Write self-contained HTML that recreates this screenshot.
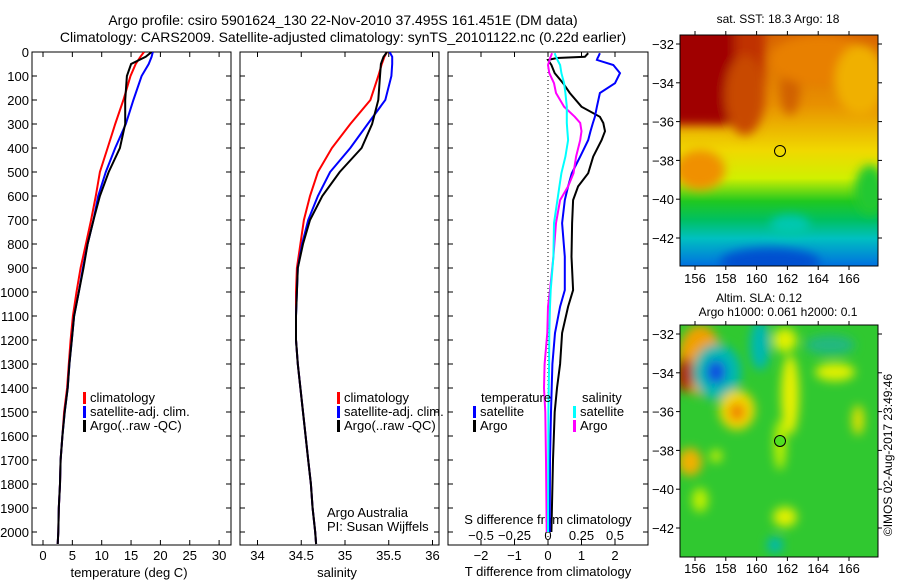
<!DOCTYPE html>
<html><head><meta charset="utf-8"><style>
body{margin:0;background:#fff;}
svg{display:block;font-family:"Liberation Sans",sans-serif;}
</style></head><body>
<svg id="fig" width="900" height="580" viewBox="0 0 900 580" xmlns="http://www.w3.org/2000/svg">
<defs>
<filter id="bl" x="-20%" y="-20%" width="140%" height="140%"><feGaussianBlur stdDeviation="5"/></filter>
<filter id="bl2" x="-30%" y="-30%" width="160%" height="160%"><feGaussianBlur stdDeviation="5"/></filter>
<clipPath id="c1"><rect x="680" y="35" width="198" height="231"/></clipPath>
<clipPath id="c2"><rect x="680" y="325" width="198" height="232"/></clipPath>
<linearGradient id="sstg" x1="0" y1="0" x2="0" y2="1">
<stop offset="0" stop-color="#d86400"/><stop offset="0.3" stop-color="#e89000"/>
<stop offset="0.5" stop-color="#f0d800"/><stop offset="0.62" stop-color="#d0f000"/>
<stop offset="0.72" stop-color="#20c820"/><stop offset="0.8" stop-color="#00c060"/>
<stop offset="0.88" stop-color="#00c0c0"/><stop offset="1" stop-color="#0070e0"/>
</linearGradient>
</defs>
<g id="titles" font-size="14" text-anchor="middle">
<text x="343" y="25">Argo profile: csiro 5901624_130 22-Nov-2010 37.495S 161.451E (DM data)</text>
<text x="343" y="42">Climatology: CARS2009. Satellite-adjusted climatology: synTS_20101122.nc (0.22d earlier)</text>
</g>
<g id="panels"></g>
<g id="map1">
<g clip-path="url(#c1)">
<rect x="680" y="35" width="198" height="231" fill="url(#sstg)"/>
<g filter="url(#bl)">
<rect x="670" y="25" width="70" height="100" fill="#a00000"/>
<rect x="735" y="25" width="30" height="60" fill="#c03000"/>
<ellipse cx="745" cy="95" rx="20" ry="40" fill="#c84800"/>
<ellipse cx="715" cy="110" rx="8" ry="16" fill="#a00000"/>
<ellipse cx="790" cy="90" rx="10" ry="25" fill="#d06000"/>
<ellipse cx="820" cy="60" rx="50" ry="25" fill="#e88000"/>
<ellipse cx="860" cy="80" rx="25" ry="35" fill="#f0b000"/>
<ellipse cx="700" cy="170" rx="25" ry="20" fill="#f09000"/>
<ellipse cx="870" cy="190" rx="15" ry="25" fill="#20c830"/>
<ellipse cx="790" cy="225" rx="20" ry="10" fill="#00c8b0"/>
<ellipse cx="770" cy="262" rx="50" ry="14" fill="#0050d0"/>
</g></g>
<rect x="680" y="35" width="198" height="231" fill="none" stroke="#000"/>
<circle cx="780" cy="151" r="5.5" fill="none" stroke="#000"/>
<text x="778" y="23" font-size="12" text-anchor="middle">sat. SST: 18.3 Argo: 18</text>
</g>
<g id="map2">
<g clip-path="url(#c2)">
<rect x="680" y="325" width="198" height="232" fill="#30c830"/>
<g filter="url(#bl2)">
<ellipse cx="700" cy="360" rx="22" ry="35" fill="#f0a000"/>
<ellipse cx="685" cy="375" rx="8" ry="18" fill="#b02000"/>
<ellipse cx="717" cy="372" rx="24" ry="28" fill="#00b8b0"/>
<ellipse cx="716" cy="372" rx="10" ry="12" fill="#1050e0"/>
<ellipse cx="737" cy="410" rx="18" ry="20" fill="#f0d800"/>
<ellipse cx="737" cy="412" rx="8" ry="9" fill="#f08000"/>
<ellipse cx="760" cy="345" rx="10" ry="25" fill="#00b8b0"/>
<ellipse cx="790" cy="395" rx="9" ry="40" fill="#e8f000"/>
<ellipse cx="780" cy="445" rx="6" ry="25" fill="#c0f000"/>
<ellipse cx="785" cy="340" rx="12" ry="12" fill="#e0f000"/>
<ellipse cx="835" cy="372" rx="20" ry="9" fill="#e0f000"/>
<ellipse cx="858" cy="420" rx="6" ry="15" fill="#e0e000"/>
<ellipse cx="690" cy="462" rx="12" ry="14" fill="#f0b000"/>
<ellipse cx="716" cy="456" rx="6" ry="6" fill="#d0f000"/>
<ellipse cx="700" cy="500" rx="8" ry="12" fill="#c0f000"/>
<ellipse cx="785" cy="517" rx="12" ry="10" fill="#e0f000"/>
<ellipse cx="775" cy="545" rx="8" ry="8" fill="#00b8b0"/>
<ellipse cx="830" cy="345" rx="25" ry="10" fill="#20b880"/>
</g></g>
<rect x="680" y="325" width="198" height="232" fill="none" stroke="#000"/>
<circle cx="780" cy="441" r="5.5" fill="#50e020" stroke="#000"/>
<text x="759" y="302" font-size="12" text-anchor="middle">Altim. SLA: 0.12</text>
<text x="778" y="316" font-size="12" text-anchor="middle">Argo h1000: 0.061 h2000: 0.1</text>
</g>
<text transform="translate(892,455) rotate(-90)" font-size="12" text-anchor="middle">©IMOS 02-Aug-2017 23:49:46</text>
</svg>
<script>
// depth levels (dbar) and series values
const depthT = [0,20,50,100,200,300,400,500,600,700,800,900,1000,1100,1200,1300,1400,1500,1600,1700,1800,1900,2000,2050];
const tempClim = [17.2,16.6,15.8,14.9,13.7,12.3,11.0,9.7,9.0,8.2,7.3,6.4,5.7,5.1,4.7,4.4,4.1,3.6,3.3,3.0,2.9,2.7,2.6,2.5];
const tempSat  = [18.7,18.5,18.0,16.8,15.4,14.1,12.3,10.7,9.4,8.6,7.6,6.8,6.1,5.3,4.9,4.5,4.2,3.7,3.3,3.0,2.9,2.7,2.6,2.5];
const tempArgo = [18.5,17.5,15.0,14.3,14.0,14.0,13.1,11.2,9.7,8.6,7.6,6.9,6.1,5.3,4.9,4.5,4.2,3.7,3.3,3.0,2.9,2.7,2.6,2.5];
const salClim = [35.48,35.45,35.42,35.38,35.29,35.06,34.85,34.69,34.60,34.53,34.49,34.45,34.44,34.44,34.44,34.46,34.49,34.52,34.55,34.58,34.61,34.63,34.66,34.67];
const salSat  = [35.51,35.54,35.54,35.53,35.46,35.26,35.06,34.83,34.69,34.58,34.51,34.46,34.45,34.44,34.44,34.46,34.49,34.52,34.55,34.58,34.61,34.63,34.66,34.67];
const salArgo = [35.48,35.44,35.41,35.40,35.38,35.31,35.19,34.94,34.74,34.60,34.52,34.46,34.45,34.44,34.44,34.46,34.49,34.52,34.55,34.58,34.61,34.63,34.66,34.67];
const depthD = [5,20,25,33,54,88,130,171,228,270,296,330,367,436,505,560,617,713,853,992,1061,1171,1300,1400,1500,1700,2000];
const dTSat  = [1.55,1.5,1.48,1.46,1.95,2.15,2.0,1.55,1.46,1.4,1.34,1.27,1.2,0.96,0.71,0.6,0.5,0.42,0.5,0.5,0.36,0.21,0.13,0.11,0.09,0.06,0.05];
const dTArgo = [1.2,1.1,0.27,0.0,0.1,0.2,0.45,0.65,1.0,1.55,1.65,1.7,1.6,1.35,1.2,0.9,0.75,0.72,0.7,0.75,0.6,0.42,0.36,0.27,0.2,0.15,0.1];
const dSSat  = [0.05,0.06,0.065,0.07,0.09,0.1,0.12,0.13,0.14,0.14,0.14,0.145,0.15,0.13,0.1,0.085,0.07,0.045,0.04,0.02,0.015,0.01,0.008,0.005,0.003,0.002,0.0];
const dSArgo = [0.03,0.02,0.015,0.012,0.0,0.01,0.045,0.06,0.12,0.2,0.24,0.25,0.24,0.21,0.19,0.15,0.09,0.06,0.04,0.015,0.0,-0.005,-0.025,-0.03,-0.02,-0.015,-0.01];
const depthTicks = [0,100,200,300,400,500,600,700,800,900,1000,1100,1200,1300,1400,1500,1600,1700,1800,1900,2000];
const tempTicks = [0,5,10,15,20,25,30];
const salTicks = [34,34.5,35,35.5,36];
const dTTicks = [-2,-1,0,1,2];
const dSTicks = [-0.5,-0.25,0,0.25,0.5];

const NS='http://www.w3.org/2000/svg';
const root=document.getElementById('panels');
function mk(tag,attrs,parent){const e=document.createElementNS(NS,tag);for(const k in attrs)e.setAttribute(k,attrs[k]);(parent||root).appendChild(e);return e;}
const TOP=52,BOT=545;
const yD=d=>TOP+d*0.24;
const xT=v=>43+v*5.87;
const xS=v=>257.5+(v-34)*87.5;
const xDT=v=>548+v*33.5;
const xDS=v=>548+v*4*33.5;
const panels=[{x:32,w:199},{x:240,w:199},{x:448,w:200}];

function stairs(depths,vals,fx){let p=[];for(let i=0;i<depths.length;i++){p.push(fx(vals[i]).toFixed(1)+','+yD(depths[i]).toFixed(1));}return p.join(' ');}
function series(depths,vals,fx,color,name,clip){
  const l=mk('polyline',{points:stairs(depths,vals,fx),fill:'none',stroke:color,'stroke-width':2,'clip-path':clip});
  
  
}
panels.forEach((p,i)=>{
  const cp=mk('clipPath',{id:'pc'+i});mk('rect',{x:p.x,y:TOP,width:p.w,height:BOT-TOP},cp);
  const r=mk('rect',{x:p.x,y:TOP,width:p.w,height:BOT-TOP,fill:'none',stroke:'#000'});
  
  
  depthTicks.forEach(d=>{const y=yD(d);mk('line',{x1:p.x,x2:p.x+5,y1:y,y2:y,stroke:'#000'});mk('line',{x1:p.x+p.w-5,x2:p.x+p.w,y1:y,y2:y,stroke:'#000'});});
});
depthTicks.forEach(d=>{
  const t=mk('text',{x:29,y:yD(d)+5,'font-size':13,'text-anchor':'end'});t.textContent=d;
  
  
});
function xticks(ticks,fx,p,ly,fs){ticks.forEach(v=>{const x=fx(v);
  mk('line',{x1:x,x2:x,y1:TOP,y2:TOP+5,stroke:'#000'});mk('line',{x1:x,x2:x,y1:BOT-5,y2:BOT,stroke:'#000'});
  const t=mk('text',{x:x,y:ly,'font-size':fs||13,'text-anchor':'middle'});t.textContent=String(v).replace('-','\u2212');
  
  });}
xticks(tempTicks,xT,panels[0],560);
xticks(salTicks,xS,panels[1],560);
xticks(dTTicks,xDT,panels[2],560);
dSTicks.forEach(v=>{const t=mk('text',{x:xDS(v),y:540,'font-size':13,'text-anchor':'middle'});t.textContent=String(v).replace('-','\u2212');
  
  });
function label(x,y,txt,name,anchor){const t=mk('text',{x:x,y:y,'font-size':13,'text-anchor':anchor||'middle'});t.textContent=txt;
  
  }
label(129,577,'temperature (deg C)','x-axis-title-temperature');
label(337,577,'salinity','x-axis-title-salinity');
label(548,576,'T difference from climatology','x-axis-title-t-diff');
label(548,524,'S difference from climatology','x-axis-title-s-diff');
label(327,517,'Argo Australia','credit-argo-australia','start');
label(327,531,'PI: Susan Wijffels','credit-pi','start');
// zero line
mk('line',{x1:548,x2:548,y1:TOP,y2:BOT,stroke:'#000','stroke-dasharray':'1,3'});

series(depthT,tempClim,xT,'#ff0000','temp-climatology-line','url(#pc0)');
series(depthT,tempSat,xT,'#0000ff','temp-satellite-line','url(#pc0)');
series(depthT,tempArgo,xT,'#000000','temp-argo-line','url(#pc0)');
series(depthT,salClim,xS,'#ff0000','sal-climatology-line','url(#pc1)');
series(depthT,salSat,xS,'#0000ff','sal-satellite-line','url(#pc1)');
series(depthT,salArgo,xS,'#000000','sal-argo-line','url(#pc1)');
series(depthD,dTArgo,xDT,'#000000','t-diff-argo-line','url(#pc2)');
series(depthD,dTSat,xDT,'#0000ff','t-diff-satellite-line','url(#pc2)');
series(depthD,dSArgo,xDS,'#ff00ff','s-diff-argo-line','url(#pc2)');
series(depthD,dSSat,xDS,'#00ffff','s-diff-satellite-line','url(#pc2)');

function legend(x,y,color,txt){
  const g=mk('g',{});
  
  
  mk('rect',{x:x,y:y-10,width:3,height:12,fill:color},g);
  const t=mk('text',{x:x+7,y:y,'font-size':13},g);t.textContent=txt;
}
[[83,0],[337,1]].forEach(([x])=>{
  legend(x,402,'#ff0000','climatology');
  legend(x,416,'#0000ff','satellite-adj. clim.');
  legend(x,430,'#000000','Argo(..raw -QC)');
});
label(481,402,'temperature','legend-title-temperature','start');
label(582,402,'salinity','legend-title-salinity','start');
legend(473,416,'#0000ff','satellite');
legend(473,430,'#000000','Argo');
legend(573,416,'#00ffff','satellite');
legend(573,430,'#ff00ff','Argo');

// map axes
const lons=[156,158,160,162,164,166], lats=[-32,-34,-36,-38,-40,-42];
const xLon=v=>695+(v-156)*15.4;
[[35,266,44,283],[325,557,334,573]].forEach(([top,bot,lat0,ly])=>{
  lons.forEach(v=>{const x=xLon(v);mk('line',{x1:x,x2:x,y1:top,y2:top-4,stroke:'#000'});mk('line',{x1:x,x2:x,y1:bot,y2:bot+4,stroke:'#000'});
    const t=mk('text',{x:x,y:ly,'font-size':13,'text-anchor':'middle'});t.textContent=v;
    
    });
  lats.forEach(v=>{const y=lat0+(-32-v)*19.4;mk('line',{x1:676,x2:680,y1:y,y2:y,stroke:'#000'});mk('line',{x1:878,x2:882,y1:y,y2:y,stroke:'#000'});
    const t=mk('text',{x:674,y:y+5,'font-size':13,'text-anchor':'end'});t.textContent=String(v).replace('-','\u2212');
    
    });
});
</script>
</body></html>
